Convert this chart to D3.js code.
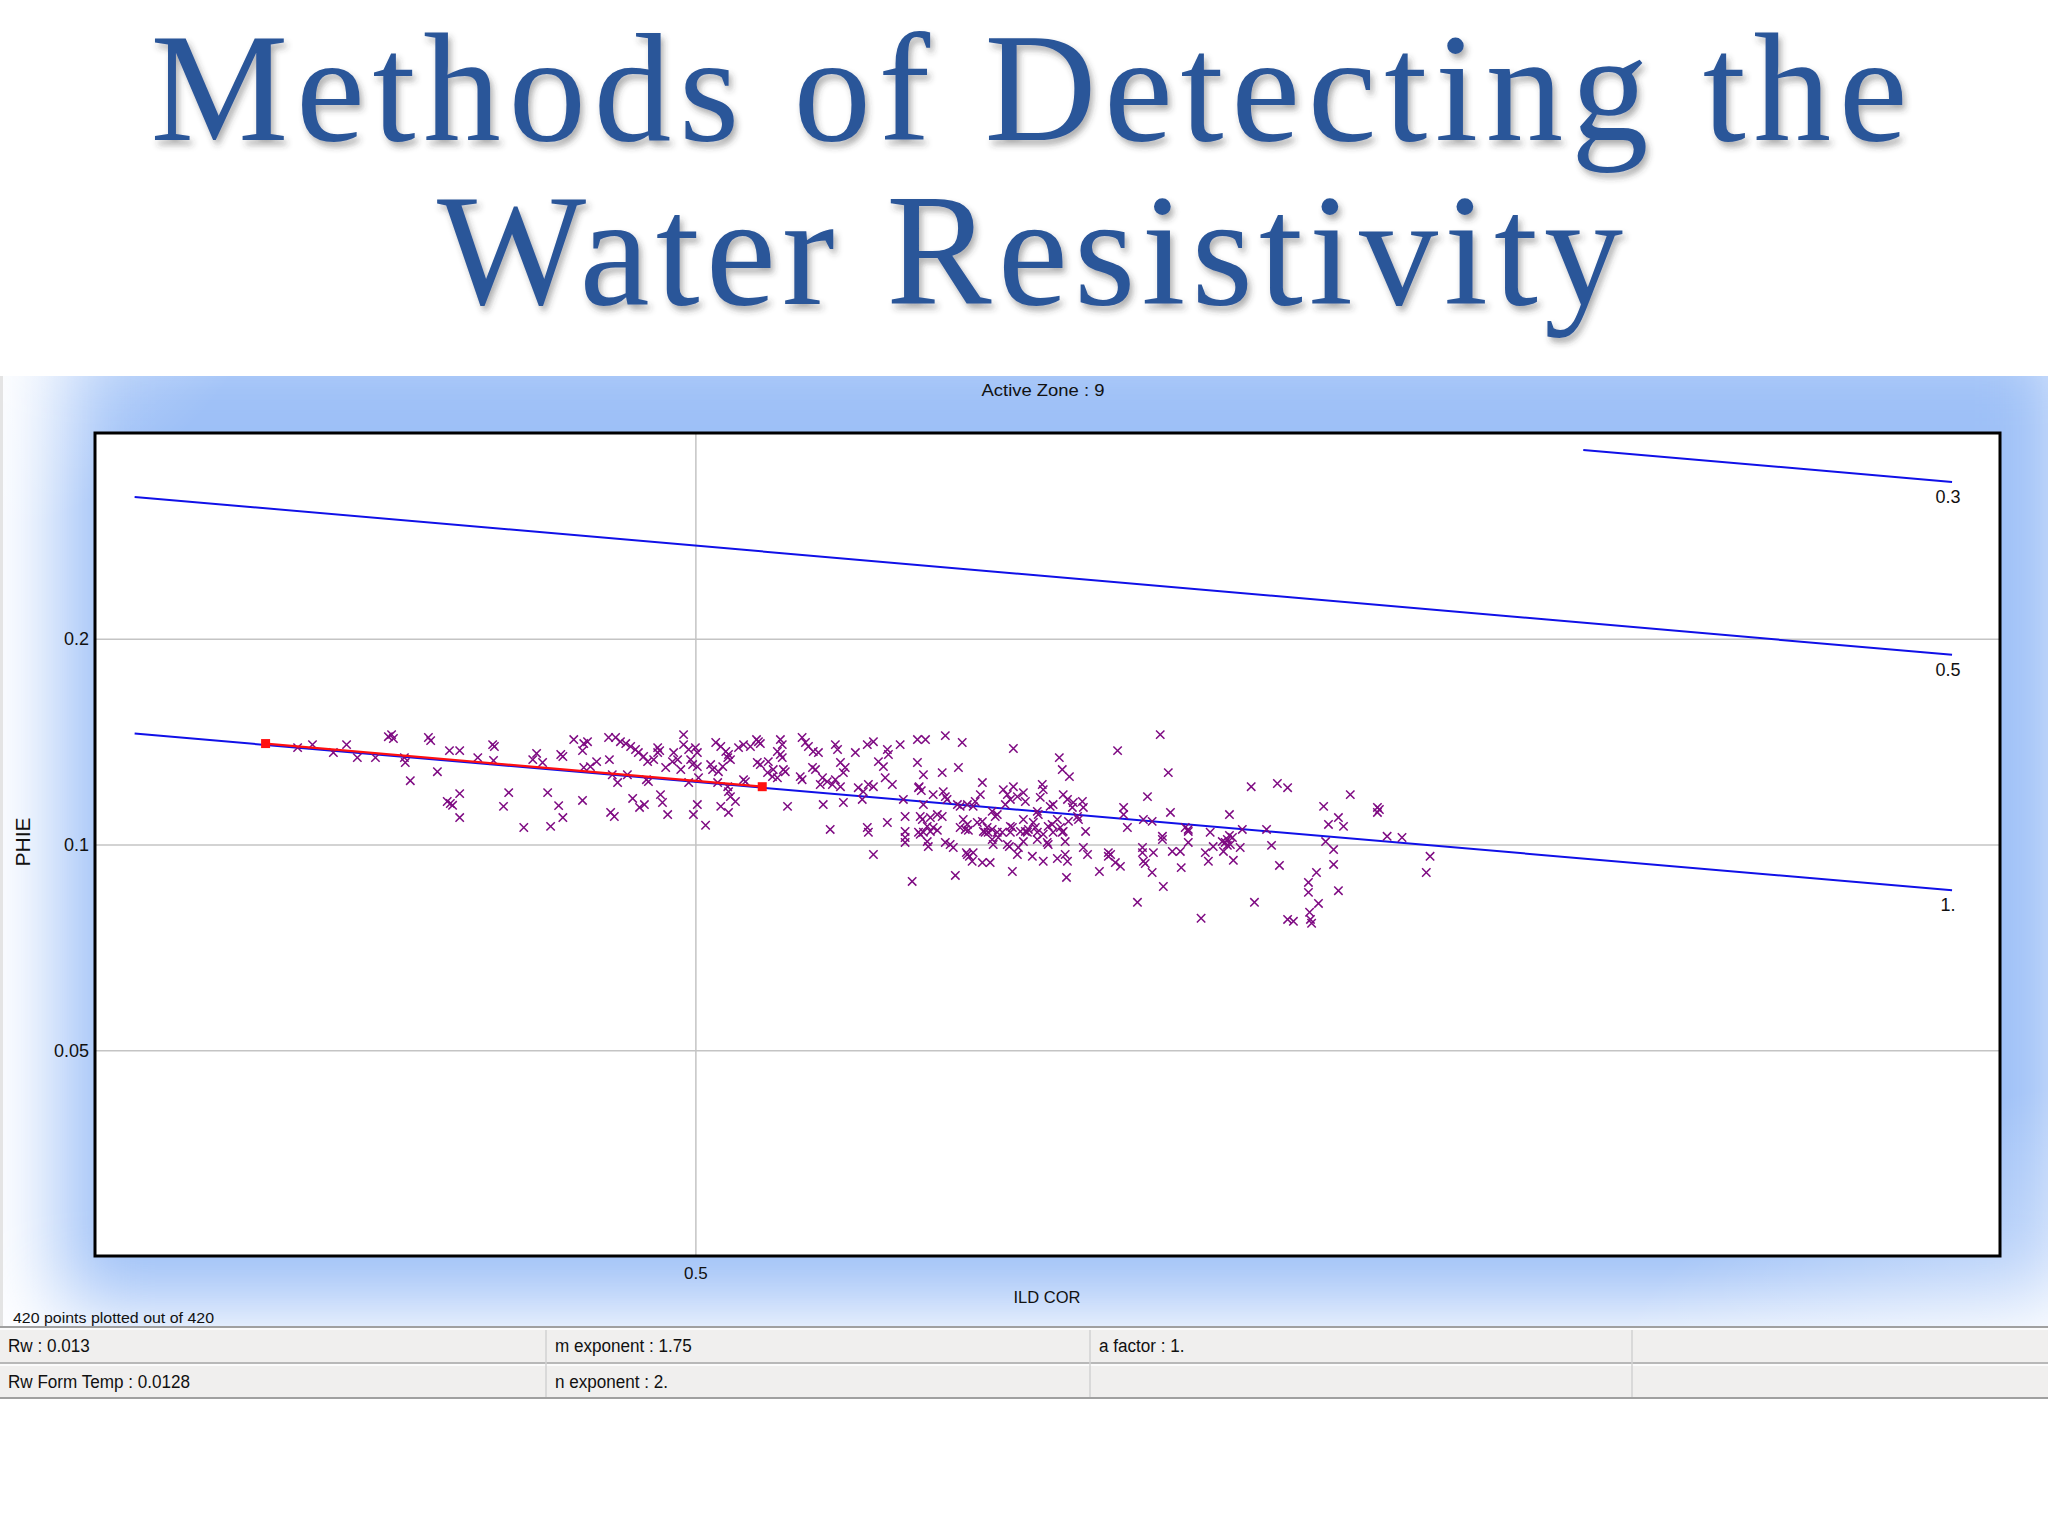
<!DOCTYPE html>
<html>
<head>
<meta charset="utf-8">
<script src="https://cdn.jsdelivr.net/npm/d3@7"></script>
<style>
  html, body { margin: 0; padding: 0; background: #ffffff; }
  svg { display: block; }
</style>
</head>
<body>
<svg id="chart" width="2048" height="1536"></svg>
<script>
// ---------------- DATA ----------------
const titleLines = ["Methods of Detecting the", "Water Resistivity"];
const chartTitle = "Active Zone : 9";
const xLabel = "ILD COR";
const yLabel = "PHIE";
const footNote = "420 points plotted out of 420";

const xDomain = [0.3684, 0.971];
const yDomain = [0.025, 0.4];
const xTicks = [0.5];
const yTicks = [0.2, 0.1, 0.05];

// Sw iso-lines (endpoints, ILD COR / PHIE)
const swLabels = ["0.3", "0.5", "1."];
const sw03Line = [[0.7855, 0.3778], [0.9476, 0.3392]];
const sw05Line = [[0.3759, 0.3225], [0.9476, 0.1895]];
const sw1Line  = [[0.3759, 0.1453], [0.9476, 0.0857]];

// red fitted segment
const fitLine = [[0.4018, 0.1405], [0.5173, 0.1215]];

// table
const tableRow1 = ["Rw : 0.013", "m exponent : 1.75", "a factor : 1.", ""];
const tableRow2 = ["Rw Form Temp : 0.0128", "n exponent : 2.", "", ""];

// scatter points [ILD COR, PHIE]
const scatterPoints = [
[0.4277,0.1438],[0.4288,0.1429],[0.4284,0.1448],
[0.4365,0.1434],[0.4370,0.1419],[0.4249,0.1340],[0.4314,0.1318],[0.4325,0.1240],
[0.4385,0.1278],[0.4412,0.1372],[0.4435,0.1372],[0.4476,0.1340],
[0.4510,0.1400],[0.4514,0.1391],[0.4512,0.1327],[0.4435,0.1187],
[0.4414,0.1148],[0.4407,0.1156],[0.4419,0.1141],[0.4435,0.1095],
[0.4547,0.1191],[0.4535,0.1137],[0.4582,0.1059],[0.4612,0.1359],
[0.4603,0.1331],[0.4626,0.1318],[0.4669,0.1354],[0.4674,0.1345],
[0.4638,0.1191],[0.4664,0.1140],[0.4674,0.1095],[0.4645,0.1063],
[0.4700,0.1424],[0.4724,0.1405],[0.4733,0.1414],[0.4721,0.1372],
[0.4724,0.1296],[0.4740,0.1300],[0.4755,0.1322],[0.4786,0.1331],
[0.4721,0.1160],[0.4789,0.1114],[0.4798,0.1099],
[0.4784,0.1434],[0.4801,0.1434],[0.4813,0.1414],[0.4826,0.1405],[0.4838,0.1391],[0.4850,0.1377],[0.4857,0.1363],[0.4870,0.1345],[0.4880,0.1322],
[0.4793,0.1265],[0.4806,0.1232],[0.4830,0.1265],[0.4877,0.1244],[0.4882,0.1236],
[0.4843,0.1168],[0.4860,0.1133],[0.4872,0.1144],
[0.4970,0.1448],[0.4970,0.1400],[0.4983,0.1377],[0.5000,0.1386],[0.5005,0.1363],
[0.4905,0.1386],[0.4905,0.1363],[0.4910,0.1372],[0.4895,0.1331],
[0.4945,0.1363],[0.4955,0.1331],[0.4942,0.1322],[0.4988,0.1331],[0.4993,0.1309],
[0.4925,0.1296],[0.4963,0.1287],[0.5005,0.1300],
[0.4912,0.1183],[0.4917,0.1152],[0.4930,0.1106],[0.4983,0.1232],[0.5008,0.1252],
[0.5005,0.1144],[0.4995,0.1106],[0.5026,0.1067],
[0.5052,0.1410],[0.5065,0.1391],[0.5078,0.1368],[0.5085,0.1354],[0.5090,0.1331],[0.5083,0.1340],
[0.5111,0.1386],[0.5124,0.1400],[0.5142,0.1391],
[0.5163,0.1414],[0.5158,0.1424],[0.5168,0.1405],
[0.5039,0.1309],[0.5044,0.1287],[0.5059,0.1278],[0.5070,0.1300],
[0.5057,0.1232],[0.5083,0.1215],[0.5085,0.1195],
[0.5065,0.1137],[0.5085,0.1114],[0.5103,0.1156],[0.5090,0.1175],
[0.5124,0.1244],[0.5129,0.1236],[0.5160,0.1318],[0.5168,0.1309],[0.5189,0.1322],
[0.5187,0.1274],[0.5202,0.1287],
[0.5221,0.1424],[0.5226,0.1400],[0.5213,0.1368],[0.5221,0.1354],[0.5226,0.1340],
[0.5229,0.1287],[0.5234,0.1278],[0.5200,0.1257],[0.5213,0.1252],[0.5240,0.1137],
[0.5279,0.1434],[0.5288,0.1410],[0.5296,0.1391],[0.5309,0.1368],[0.5323,0.1363],
[0.5307,0.1296],[0.5315,0.1287],[0.5274,0.1257],[0.5279,0.1244],
[0.5334,0.1252],[0.5347,0.1236],[0.5328,0.1224],[0.5369,0.1400],[0.5375,0.1377],
[0.5383,0.1318],[0.5396,0.1296],[0.5391,0.1274],
[0.5369,0.1244],[0.5361,0.1224],[0.5383,0.1215],
[0.5336,0.1144],[0.5391,0.1152],[0.5355,0.1052],
[0.5424,0.1363],[0.5457,0.1400],[0.5474,0.1414],
[0.5432,0.1211],[0.5446,0.1195],[0.5460,0.1224],[0.5474,0.1215],[0.5443,0.1164],
[0.5457,0.1059],[0.5460,0.1042],
[0.5488,0.1322],[0.5502,0.1300],[0.5513,0.1377],[0.5516,0.1354],
[0.5507,0.1252],[0.5527,0.1224],[0.5513,0.1077],
[0.5549,0.1400],[0.5558,0.1164],[0.5563,0.1099],[0.5563,0.1045],
[0.5598,0.1424],[0.5598,0.1318],[0.5601,0.1211],
[0.5621,0.1424],[0.5678,0.1443],[0.5727,0.1410],
[0.5615,0.1265],[0.5669,0.1274],[0.5716,0.1296],
[0.5878,0.1382],[0.6017,0.1340],[0.6026,0.1287],[0.6048,0.1257],
[0.6198,0.1372],[0.6334,0.1448],[0.6360,0.1274],
[0.5603,0.1215],[0.5609,0.1199],
[0.5643,0.1183],[0.5672,0.1195],[0.5678,0.1175],[0.5683,0.1164],
[0.5786,0.1232],[0.5780,0.1183],[0.5765,0.1156],
[0.5848,0.1203],[0.5860,0.1183],[0.5869,0.1164],[0.5878,0.1215],[0.5890,0.1175],[0.5908,0.1191],[0.5914,0.1156],[0.5854,0.1144],
[0.5965,0.1224],[0.5968,0.1203],[0.5959,0.1172],
[0.6029,0.1183],[0.6042,0.1164],[0.6060,0.1152],[0.6057,0.1133],[0.6088,0.1156],[0.6091,0.1133],
[0.5998,0.1144],[0.5989,0.1137],[0.6293,0.1175],
[0.6217,0.1133],[0.6217,0.1106],[0.6229,0.1059],[0.6280,0.1088],[0.6308,0.1081],
[0.6367,0.1114],[0.6415,0.1059],
[0.5615,0.1144],[0.5606,0.1099],[0.5612,0.1088],[0.5626,0.1063],[0.5615,0.1042],
[0.5635,0.1095],[0.5655,0.1106],[0.5669,0.1099],[0.5643,0.1059],[0.5606,0.1035],
[0.5721,0.1137],[0.5713,0.1144],[0.5742,0.1144],[0.5759,0.1137],
[0.5730,0.1088],[0.5742,0.1070],[0.5721,0.1059],[0.5736,0.1052],
[0.5771,0.1077],[0.5786,0.1081],[0.5800,0.1059],[0.5815,0.1052],[0.5794,0.1042],
[0.5824,0.1099],[0.5830,0.1106],[0.5815,0.1118],
[0.5869,0.1063],[0.5875,0.1059],[0.5845,0.1042],
[0.5908,0.1088],[0.5914,0.1045],[0.5923,0.1052],[0.5938,0.1077],[0.5944,0.1059],
[0.5953,0.1106],[0.5950,0.1118],
[0.5983,0.1063],[0.5995,0.1070],[0.6011,0.1088],[0.6020,0.1059],[0.6029,0.1045],[0.6045,0.1081],
[0.6073,0.1099],[0.6076,0.1088],[0.6341,0.1028],
[0.6634,0.1215],[0.6723,0.1228],[0.6758,0.1211],[0.6977,0.1183],
[0.6883,0.1137],[0.6561,0.1106],[0.6935,0.1095],[0.6900,0.1070],[0.6953,0.1063],
[0.7074,0.1133],[0.7074,0.1114],[0.7081,0.1125],
[0.6425,0.1052],[0.6497,0.1042],[0.6604,0.1052],[0.6686,0.1052],
[0.7109,0.1028],[0.7163,0.1024],
[0.5563,0.1024],[0.5563,0.1007],[0.5601,0.1042],[0.5635,0.1045],[0.5655,0.1049],
[0.5626,0.1010],[0.5629,0.0993],[0.5678,0.1007],[0.5692,0.1000],[0.5701,0.0990],
[0.5474,0.0967],
[0.5742,0.0967],[0.5748,0.0961],[0.5739,0.0973],[0.5759,0.0973],[0.5756,0.0945],
[0.5786,0.0941],[0.5809,0.0941],[0.5707,0.0901],[0.5583,0.0883],
[0.5745,0.1049],[0.5789,0.1045],[0.5803,0.1042],[0.5830,0.1042],[0.5869,0.1042],[0.5899,0.1045],[0.5920,0.1042],[0.5950,0.1042],
[0.5815,0.1017],[0.5818,0.1000],[0.5833,0.1024],[0.5860,0.1000],[0.5866,0.0993],
[0.5893,0.0990],[0.5890,0.0967],[0.5908,0.1010],[0.5935,0.0961],[0.5950,0.1017],[0.5968,0.0945],[0.5980,0.1007],
[0.5875,0.0913],
[0.5968,0.1035],[0.5998,0.1042],[0.6026,0.1042],[0.5983,0.1000],[0.6035,0.1010],[0.6098,0.1045],
[0.6011,0.0954],[0.6035,0.0967],[0.6042,0.0945],[0.6039,0.0895],
[0.6091,0.0990],[0.6104,0.0967],[0.6141,0.0913],
[0.6169,0.0973],[0.6169,0.0961],[0.6176,0.0967],[0.6191,0.0941],[0.6207,0.0929],
[0.6277,0.0990],[0.6277,0.0973],[0.6312,0.0973],[0.6280,0.0945],[0.6286,0.0938],
[0.6308,0.0910],[0.6261,0.0823],[0.6344,0.0868],[0.6341,0.1017],
[0.6373,0.0977],[0.6399,0.0977],[0.6402,0.0925],[0.6425,0.1007],[0.6425,0.1045],
[0.6481,0.0973],[0.6491,0.0945],[0.6507,0.0993],
[0.6537,0.1010],[0.6547,0.1007],[0.6554,0.1017],[0.6564,0.1000],[0.6571,0.1024],[0.6541,0.0977],[0.6554,0.0997],[0.6561,0.1031],
[0.6597,0.0990],[0.6574,0.0948],[0.6467,0.0780],[0.6645,0.0823],
[0.6703,0.0997],[0.6730,0.0932],
[0.6858,0.0910],[0.6830,0.0880],[0.6830,0.0851],[0.6865,0.0820],[0.6834,0.0796],[0.6837,0.0777],[0.6841,0.0767],
[0.6758,0.0777],[0.6778,0.0772],
[0.6890,0.1010],[0.6918,0.0983],[0.6918,0.0935],[0.6935,0.0856],
[0.7266,0.0961],[0.7252,0.0910],
[0.4084,0.1386],[0.4115,0.1400],[0.4159,0.1363],[0.4187,0.1400],[0.4210,0.1340],[0.4312,0.1340]
];

// ---------------- LAYOUT ----------------
const W = 2048, H = 1536;
const plot = { left: 95, top: 433, right: 2000, bottom: 1256 };
const panel = { top: 376, bottom: 1327 };
const sans = "'Liberation Sans', Arial, 'DejaVu Sans', sans-serif";
const serif = "'Liberation Serif', 'DejaVu Serif', serif";

const svg = d3.select("#chart");
const defs = svg.append("defs");

// title shadow
const sh = defs.append("filter").attr("id", "tshadow")
  .attr("x", "-5%").attr("y", "-20%").attr("width", "110%").attr("height", "150%");
sh.append("feDropShadow").attr("dx", 3).attr("dy", 5).attr("stdDeviation", 3)
  .attr("flood-color", "#3a3a3a").attr("flood-opacity", 0.4);

// glow filter for panel background
const gl = defs.append("filter").attr("id", "glow")
  .attr("x", "-20%").attr("y", "-20%").attr("width", "140%").attr("height", "140%");
gl.append("feGaussianBlur").attr("stdDeviation", 40);

defs.append("clipPath").attr("id", "panelClip")
  .append("rect").attr("x", 0).attr("y", panel.top).attr("width", W).attr("height", panel.bottom - panel.top);

const rgTL = defs.append("radialGradient").attr("id", "whiteTL")
  .attr("cx", 0).attr("cy", 0).attr("r", 1);
rgTL.append("stop").attr("offset", "0%").attr("stop-color", "#ffffff").attr("stop-opacity", 1);
rgTL.append("stop").attr("offset", "100%").attr("stop-color", "#ffffff").attr("stop-opacity", 0);

const rgBR = defs.append("radialGradient").attr("id", "whiteBR")
  .attr("cx", 1).attr("cy", 1).attr("r", 1);
rgBR.append("stop").attr("offset", "0%").attr("stop-color", "#ffffff").attr("stop-opacity", 0.95);
rgBR.append("stop").attr("offset", "100%").attr("stop-color", "#ffffff").attr("stop-opacity", 0);

// ---------------- TITLE ----------------
const tg = svg.append("g").attr("filter", "url(#tshadow)");
tg.append("text").attr("x", 1029).attr("y", 140)
  .attr("text-anchor", "middle")
  .attr("font-family", serif)
  .attr("font-size", 155).attr("fill", "#2c5699")
  .attr("textLength", 1757).attr("lengthAdjust", "spacing")
  .text(titleLines[0]);
tg.append("text").attr("x", 1030).attr("y", 304)
  .attr("text-anchor", "middle")
  .attr("font-family", serif)
  .attr("font-size", 158).attr("fill", "#2c5699")
  .attr("textLength", 1186).attr("lengthAdjust", "spacing")
  .text(titleLines[1]);

// ---------------- PANEL BACKGROUND ----------------
const bg = svg.append("g").attr("clip-path", "url(#panelClip)");
bg.append("rect").attr("x", 0).attr("y", panel.top).attr("width", W).attr("height", panel.bottom - panel.top)
  .attr("fill", "#ffffff");
bg.append("rect").attr("x", 60).attr("y", 330).attr("width", 2010).attr("height", 975)
  .attr("fill", "#9dc0f7").attr("filter", "url(#glow)");
bg.append("rect").attr("x", -200).attr("y", panel.top - 200).attr("width", 500).attr("height", 400)
  .attr("fill", "url(#whiteTL)");
bg.append("rect").attr("x", 1548).attr("y", panel.bottom - 260).attr("width", 700).attr("height", 460)
  .attr("fill", "url(#whiteBR)");
bg.append("rect").attr("x", 0).attr("y", panel.top).attr("width", 3).attr("height", panel.bottom - panel.top)
  .attr("fill", "#e4e4e4");

// ---------------- SCALES ----------------
const x = d3.scaleLog().domain(xDomain).range([plot.left, plot.right]);
const y = d3.scaleLog().domain(yDomain).range([plot.bottom, plot.top]);
const pw = plot.right - plot.left, ph = plot.bottom - plot.top;

svg.append("rect").attr("x", plot.left).attr("y", plot.top).attr("width", pw).attr("height", ph)
  .attr("fill", "#ffffff");

// axes with gridlines
const yAxis = d3.axisLeft(y).tickValues(yTicks).tickFormat(d => String(d))
  .tickSizeInner(-pw).tickSizeOuter(0).tickPadding(6);
const gy = svg.append("g").attr("transform", `translate(${plot.left},0)`).call(yAxis);
gy.select(".domain").remove();
gy.selectAll(".tick line").attr("stroke", "#c4c4c4").attr("stroke-width", 1.5);
gy.selectAll(".tick text").attr("font-family", sans).attr("font-size", 18).attr("fill", "#111");

const xAxis = d3.axisBottom(x).tickValues(xTicks).tickFormat(d => String(d))
  .tickSizeInner(-ph).tickSizeOuter(0).tickPadding(11);
const gx = svg.append("g").attr("transform", `translate(0,${plot.bottom})`).call(xAxis);
gx.select(".domain").remove();
gx.selectAll(".tick line").attr("stroke", "#c4c4c4").attr("stroke-width", 1.5);
gx.selectAll(".tick text").attr("font-family", sans).attr("font-size", 17).attr("fill", "#111");

// ---------------- LINES ----------------
const line = d3.line().x(d => x(d[0])).y(d => y(d[1]));
const swLines = [sw03Line, sw05Line, sw1Line];
svg.append("g").selectAll("path").data(swLines).join("path")
  .attr("d", line).attr("fill", "none").attr("stroke", "#1010e8").attr("stroke-width", 2);

svg.append("g").selectAll("text").data(swLines).join("text")
  .attr("x", d => x(d[1][0]) - 4)
  .attr("y", d => y(d[1][1]) + 21)
  .attr("text-anchor", "middle")
  .attr("font-family", sans).attr("font-size", 18).attr("fill", "#111")
  .text((d, i) => swLabels[i]);

// ---------------- POINTS ----------------
const r = 4.2;
svg.append("g").selectAll("path").data(scatterPoints).join("path")
  .attr("d", d => {
    const cx = x(d[0]), cy = y(d[1]);
    return `M${cx - r},${cy - r}L${cx + r},${cy + r}M${cx - r},${cy + r}L${cx + r},${cy - r}`;
  })
  .attr("stroke", "#7e0a82").attr("stroke-width", 1.5).attr("fill", "none");

// red fit segment
svg.append("path").datum(fitLine).attr("d", line)
  .attr("fill", "none").attr("stroke", "#ff1010").attr("stroke-width", 2.2);
svg.append("g").selectAll("rect").data(fitLine).join("rect")
  .attr("x", d => x(d[0]) - 4.5).attr("y", d => y(d[1]) - 4.5)
  .attr("width", 9).attr("height", 9).attr("fill", "#ff1010");

// plot border
svg.append("rect").attr("x", plot.left).attr("y", plot.top).attr("width", pw).attr("height", ph)
  .attr("fill", "none").attr("stroke", "#000").attr("stroke-width", 3);

// ---------------- TEXTS ----------------
svg.append("text").attr("x", 1043).attr("y", 396).attr("text-anchor", "middle")
  .attr("font-family", sans).attr("font-size", 17).attr("fill", "#111")
  .attr("textLength", 123).attr("lengthAdjust", "spacingAndGlyphs").text(chartTitle);
svg.append("text").attr("x", 1047).attr("y", 1303).attr("text-anchor", "middle")
  .attr("font-family", sans).attr("font-size", 17).attr("fill", "#111")
  .attr("textLength", 67).attr("lengthAdjust", "spacingAndGlyphs").text(xLabel);
svg.append("text").attr("transform", "translate(30,842) rotate(-90)").attr("text-anchor", "middle")
  .attr("font-family", sans).attr("font-size", 21).attr("fill", "#111").text(yLabel);
svg.append("text").attr("x", 13).attr("y", 1323)
  .attr("font-family", sans).attr("font-size", 14).attr("fill", "#111")
  .attr("textLength", 201).attr("lengthAdjust", "spacingAndGlyphs").text(footNote);

// ---------------- TABLE ----------------
const colX = [0, 546, 1090, 1632, 2048];
const rowY = [1327, 1363, 1398];
const tb = svg.append("g");
tb.append("rect").attr("x", 0).attr("y", rowY[0]).attr("width", W).attr("height", rowY[2] - rowY[0])
  .attr("fill", "#f0efee");
[rowY[0], rowY[1], rowY[2]].forEach((yy, i) => {
  tb.append("line").attr("x1", 0).attr("x2", W).attr("y1", yy).attr("y2", yy)
    .attr("stroke", i === 1 ? "#b8b8b8" : "#a0a0a0").attr("stroke-width", 2);
  tb.append("line").attr("x1", 0).attr("x2", W).attr("y1", yy + 2).attr("y2", yy + 2)
    .attr("stroke", "#ffffff").attr("stroke-width", 1.5);
});
colX.slice(1, 4).forEach(cx => {
  tb.append("line").attr("x1", cx).attr("x2", cx).attr("y1", rowY[0] + 3).attr("y2", rowY[2] - 1)
    .attr("stroke", "#d2d2d2").attr("stroke-width", 1.5);
});
[tableRow1, tableRow2].forEach((row, ri) => {
  tb.selectAll(null).data(row).join("text")
    .attr("x", (d, i) => colX[i] + (i === 0 ? 8 : 9))
    .attr("y", ri === 0 ? 1352 : 1388)
    .attr("font-family", sans).attr("font-size", 19).attr("fill", "#111")
    .attr("transform", (d, i) => {
      const tx = colX[i] + (i === 0 ? 8 : 9);
      return `translate(${tx},0) scale(0.9,1) translate(${-tx},0)`;
    })
    .text(d => d);
});
</script>
</body>
</html>
